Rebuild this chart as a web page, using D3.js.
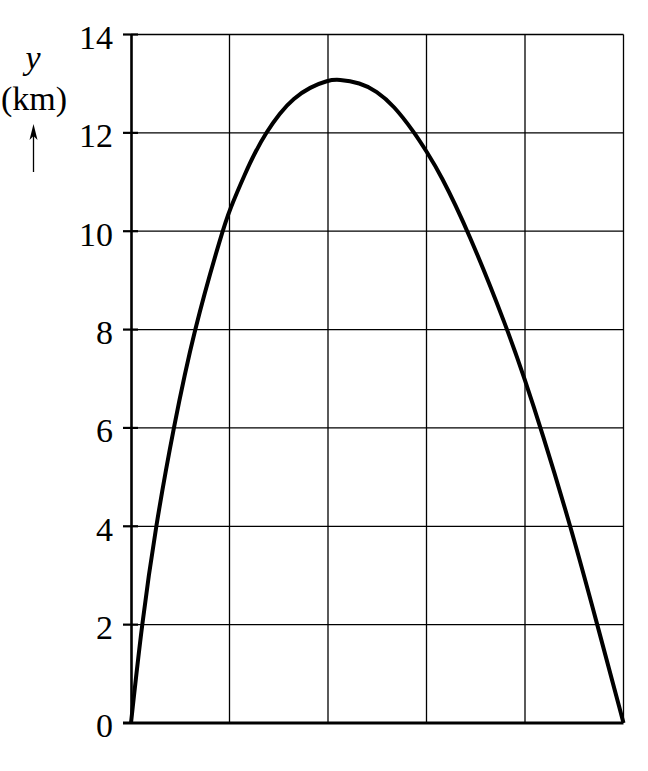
<!DOCTYPE html>
<html>
<head>
<meta charset="utf-8">
<script src="https://cdn.jsdelivr.net/npm/d3@7"></script>
<style>
  body { margin: 0; background: #fff; }
  svg { display: block; }
  text { font-family: "Liberation Serif", "DejaVu Serif", serif; fill: #000; }
</style>
</head>
<body>
<div id="chart"></div>
<script>
// curve (x in grid columns, y in km)
const pathX = [0, 0.109, 0.251, 0.431, 0.640, 0.927, 1.0, 1.164, 1.259, 1.37, 1.513, 1.648, 1.817, 2.0, 2.105, 2.325, 2.495, 2.665, 2.88, 3.0, 3.137, 3.425, 3.824, 4.0, 4.16, 4.464, 4.734, 5.0];
const pathY = [0, 2, 4, 6, 8, 10, 10.43, 11.2, 11.6, 12, 12.41, 12.70, 12.93, 13.07, 13.09, 13.02, 12.85, 12.56, 12, 11.62, 11.18, 10, 8, 6.97, 6, 4, 2, 0];
const yTicks = [0, 2, 4, 6, 8, 10, 12, 14];
const xGrid = [1, 2, 3, 4, 5];

const width = 648, height = 771;
const svg = d3.select("#chart").append("svg")
  .attr("width", width)
  .attr("height", height);

const x = d3.scaleLinear().domain([0, 5]).range([131, 623.5]);
const y = d3.scaleLinear().domain([0, 14]).range([723, 34.5]);

// grid
svg.append("g")
  .selectAll("line")
  .data(yTicks.filter(d => d > 0))
  .join("line")
  .attr("x1", x(0)).attr("x2", x(5))
  .attr("y1", d => y(d)).attr("y2", d => y(d))
  .attr("stroke", "#000").attr("stroke-width", 1.3);

svg.append("g")
  .selectAll("line")
  .data(xGrid)
  .join("line")
  .attr("x1", d => x(d)).attr("x2", d => x(d))
  .attr("y1", y(0)).attr("y2", y(14))
  .attr("stroke", "#000").attr("stroke-width", 1.3);

// y axis
const yAxis = svg.append("g")
  .attr("transform", `translate(${x(0)},0)`)
  .call(d3.axisLeft(y).tickValues(yTicks).tickSize(0).tickPadding(18));
yAxis.select(".domain").attr("stroke", "#000").attr("stroke-width", 2.6);
yAxis.selectAll(".tick text")
  .attr("font-size", 34)
  .attr("dy", "0.41em")
  .style("font-family", '"Liberation Serif", serif');

// tick marks crossing the axis
svg.append("g")
  .selectAll("line")
  .data(yTicks.filter(d => d > 0))
  .join("line")
  .attr("x1", x(0) - 8).attr("x2", x(0) + 7)
  .attr("y1", d => y(d)).attr("y2", d => y(d))
  .attr("stroke", "#000").attr("stroke-width", 2.2);

// x axis (baseline)
svg.append("line")
  .attr("x1", x(0) - 8).attr("x2", x(5))
  .attr("y1", y(0)).attr("y2", y(0))
  .attr("stroke", "#000").attr("stroke-width", 2.8);

// curve
const pts = pathX.map((d, i) => [d, pathY[i]]);
svg.append("path")
  .datum(pts)
  .attr("fill", "none")
  .attr("stroke", "#000")
  .attr("stroke-width", 4)
  .attr("stroke-linejoin", "round")
  .attr("d", d3.line().x(d => x(d[0])).y(d => y(d[1])).curve(d3.curveBasis));

// axis label
svg.append("text")
  .attr("x", 33).attr("y", 69)
  .attr("text-anchor", "middle")
  .attr("font-size", 34)
  .attr("font-style", "italic")
  .text("y");
svg.append("text")
  .attr("x", 34).attr("y", 110)
  .attr("text-anchor", "middle")
  .attr("font-size", 34)
  .text("(km)");

svg.append("line")
  .attr("x1", 33.5).attr("x2", 33.5)
  .attr("y1", 172).attr("y2", 132)
  .attr("stroke", "#000").attr("stroke-width", 1.3);
svg.append("path")
  .attr("d", "M33.5,124 L29.5,140 L33.5,136 L37.5,140 Z")
  .attr("fill", "#000");
</script>
</body>
</html>
